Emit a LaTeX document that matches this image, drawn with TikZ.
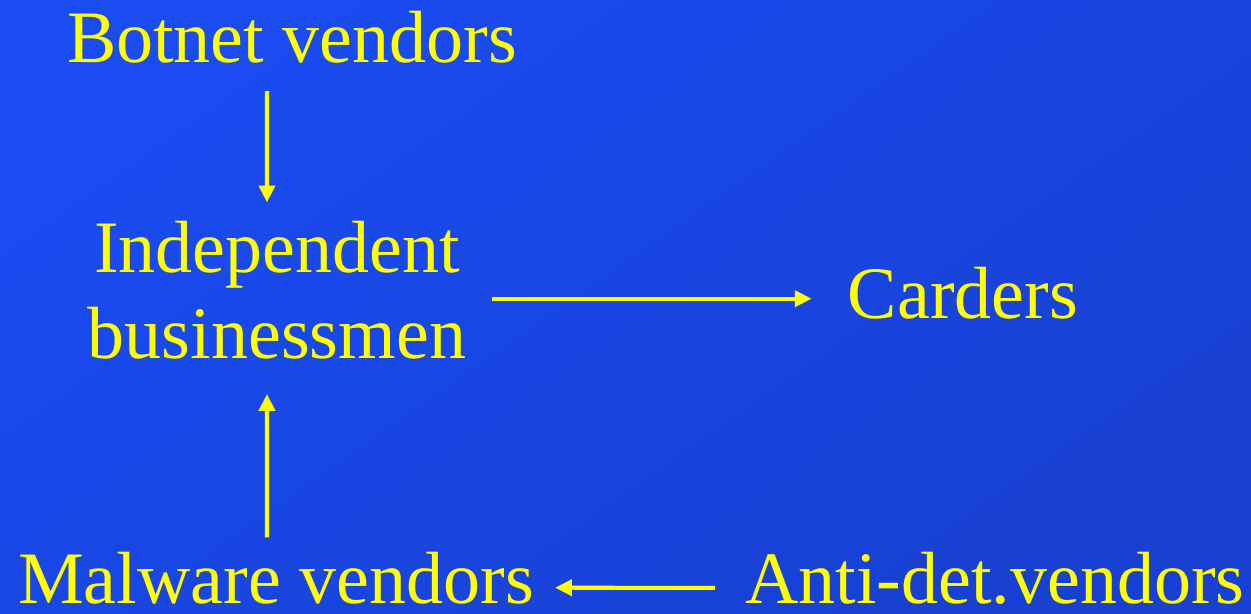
\documentclass[tikz,border=0pt]{standalone}
\usepackage{fontspec}
\setmainfont{Liberation Serif}
\usetikzlibrary{arrows.meta}
\definecolor{bgA}{RGB}{26,76,242}
\definecolor{bgB}{RGB}{24,64,210}
\definecolor{ylw}{RGB}{255,255,0}
\tikzset{
  lbl/.style={anchor=base, inner sep=0pt, text=ylw, font=\fontsize{42.1}{50}\selectfont},
  arr/.style={draw=ylw, line width=2.3pt, -{Triangle[length=9.5pt,width=9pt]}}
}
\begin{document}
\begin{tikzpicture}[x=0.02cm,y=-0.02cm]
\shade[shading=axis, top color=bgA, bottom color=bgB, shading angle=35] (0,0) rectangle (1251,613);
\useasboundingbox (0,0) rectangle (1251,613);
\node[lbl] (botnet) at (292,62) {Botnet vendors};
\node[lbl] (ind1) at (277,272) {Independent};
\node[lbl] (ind2) at (277,358) {businessmen};
\node[lbl] (carders) at (963,318) {Carders};
\node[lbl] (malware) at (276,603) {Malware vendors};
\node[lbl] (anti) at (995,603) {Anti-det.vendors};
\draw[arr] ([xshift=-0.5cm,yshift=-0.56cm]botnet.south) -- ([xshift=-0.2cm,yshift=0.36cm]ind1.north);
\draw[arr] ([xshift=0.52cm,yshift=-0.12cm]ind2.east |- carders.west) -- ([xshift=-0.72cm,yshift=-0.12cm]carders.west);
\draw[arr] ([xshift=-0.18cm,yshift=0.28cm]malware.north) -- ([xshift=-0.2cm,yshift=-0.7cm]ind2.south);
\draw[arr] ([xshift=-0.6cm,yshift=-0.2cm]anti.west) -- ([xshift=0.42cm,yshift=-0.2cm]malware.east);
\end{tikzpicture}
\end{document}
